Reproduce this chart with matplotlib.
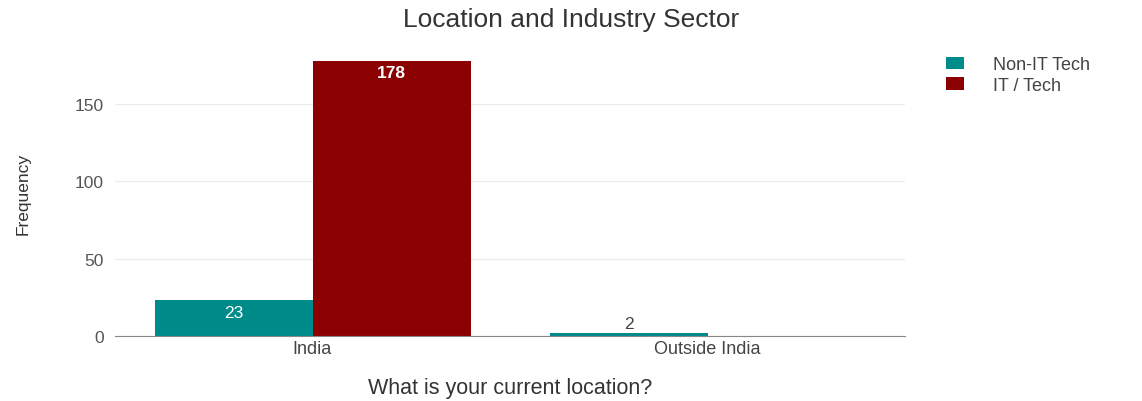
import numpy as np
import matplotlib.pyplot as plt

locations = ["India", "Outside India"]
sectors = ["Non-IT Tech", "IT / Tech"]
non_it_counts = [23, 2]
it_counts = [178, 0]
sector_colors = ["#008b8b", "#8b0000"]

plt.rcParams['font.family'] = ['Liberation Sans', 'DejaVu Sans']

fig = plt.figure(figsize=(11.42, 4.02), dpi=100)
ax = fig.add_axes([115 / 1142, 1 - 337 / 402, 790 / 1142, (337 - 50) / 402])

x = np.arange(len(locations))
width = 0.4
bars_non = ax.bar(x - width / 2, non_it_counts, width, color=sector_colors[0], label=sectors[0])
bars_it = ax.bar(x + width / 2, it_counts, width, color=sector_colors[1], label=sectors[1])

ax.set_ylim(0, 150 * (337 - 50) / (337 - 105))
ax.set_xlim(-0.5, 1.5)

# value labels: inside the bar when tall enough, above it otherwise
for rects in (bars_non, bars_it):
    for r in rects:
        h = r.get_height()
        if h <= 0:
            continue
        cx = r.get_x() + r.get_width() / 2
        if h > 15:
            ax.text(cx, h - 3, '%d' % h, ha='center', va='top', color='white',
                    fontsize=12.5, fontweight='bold' if h > 100 else 'normal')
        else:
            ax.text(cx, h + 1.5, '%d' % h, ha='center', va='bottom', color='#444444', fontsize=12.5)

ax.set_yticks([0, 50, 100, 150])
ax.yaxis.grid(True, color='#ebebeb', linewidth=0.8)
ax.set_axisbelow(True)
for s in ['top', 'right', 'left']:
    ax.spines[s].set_visible(False)
ax.spines['bottom'].set_color('#888888')
ax.tick_params(axis='y', length=0, colors='#555555', labelsize=12.5, pad=8)
ax.tick_params(axis='x', length=0, colors='#444444', labelsize=13, pad=3)
ax.set_xticks(x)
ax.set_xticklabels(locations)

ax.set_ylabel('Frequency', fontsize=12.5, color='#333333', labelpad=32)
ax.set_xlabel('What is your current location?', fontsize=15.5, color='#333333', labelpad=14)
fig.suptitle('Location and Industry Sector', fontsize=19, color='#333333', y=0.98)

fig.legend(handles=[bars_non, bars_it], labels=sectors, loc='upper left',
           bbox_to_anchor=(930 / 1142, 1 - 41 / 402), frameon=False, fontsize=13,
           handlelength=1.0, handleheight=0.7, labelcolor='#444444', labelspacing=0.2,
           handletextpad=1.6)

fig.savefig('out.png', dpi=100)
